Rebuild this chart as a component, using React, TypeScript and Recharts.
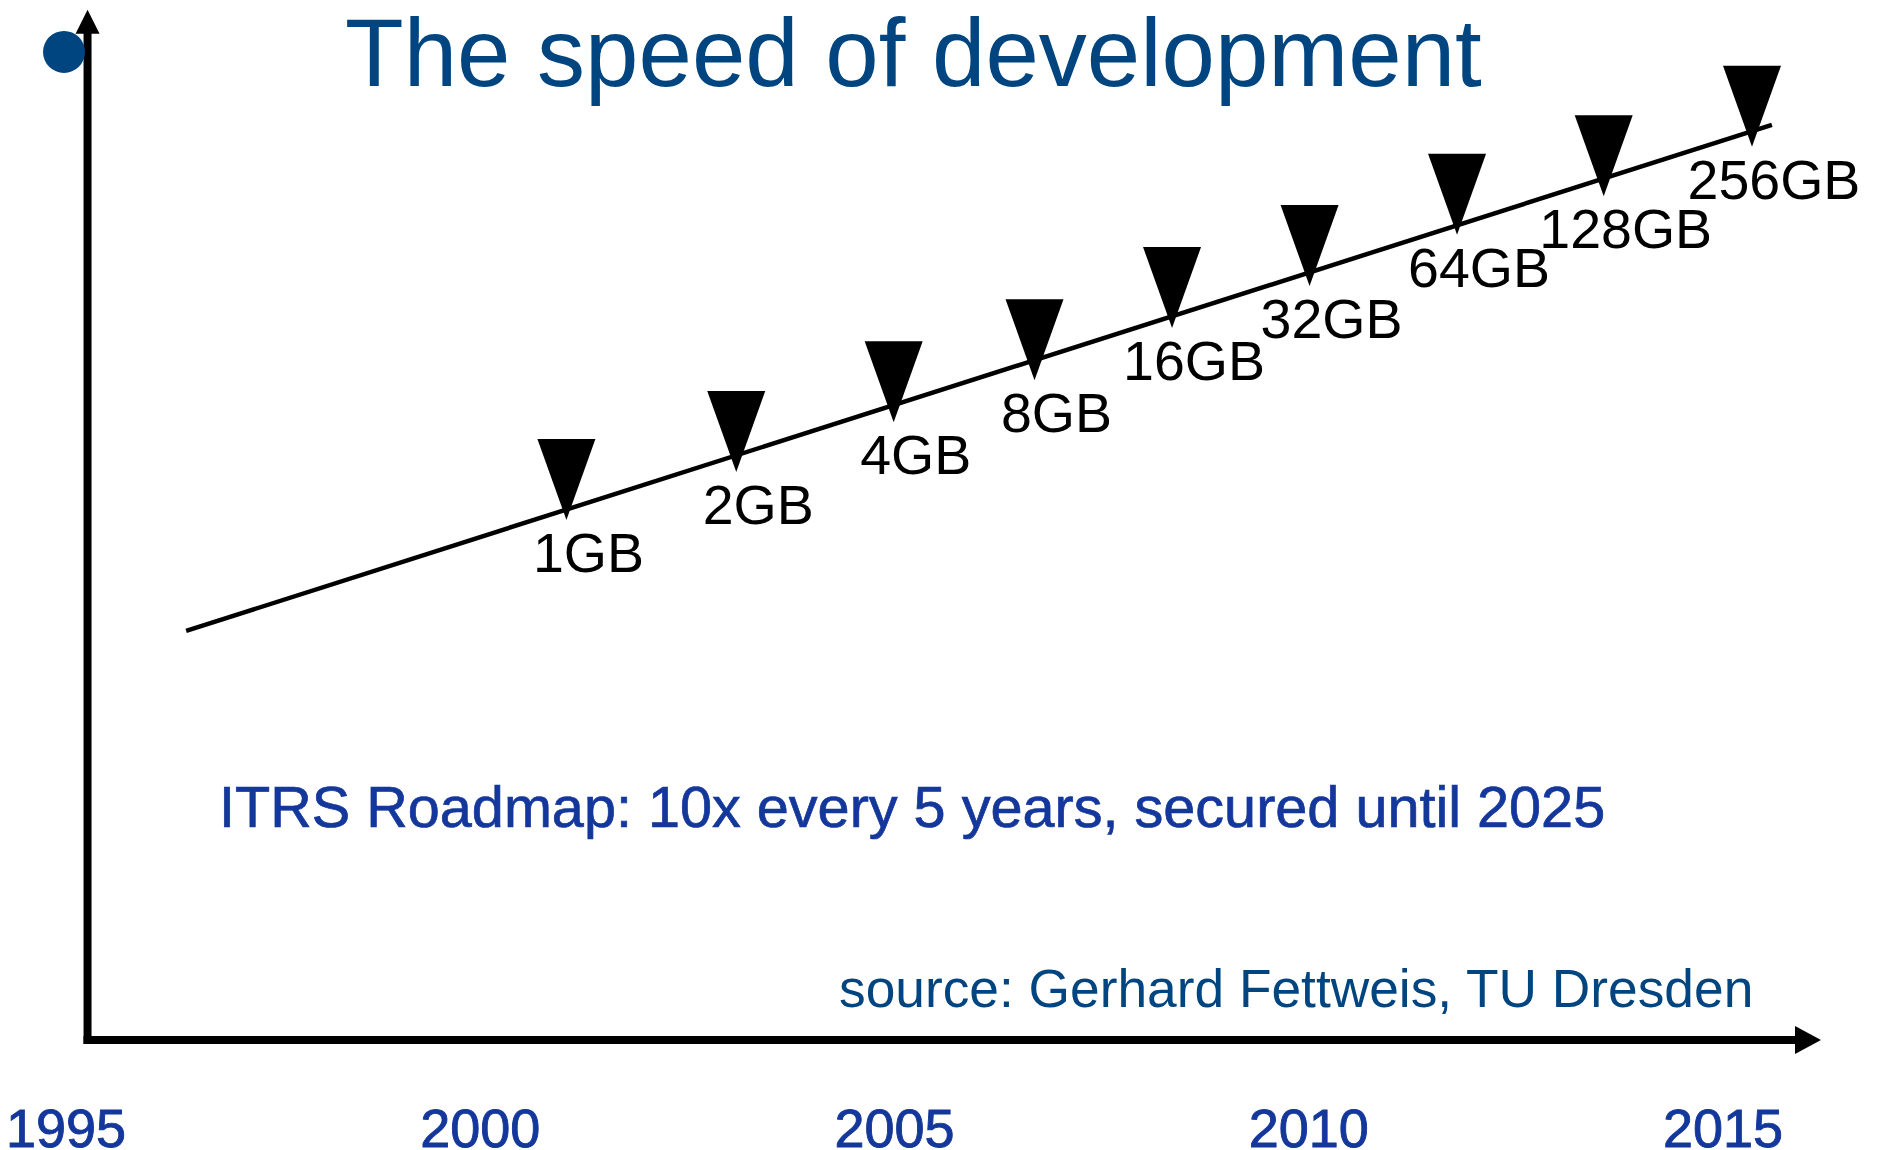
import React from "react";
import {
  ComposedChart,
  Line,
  Scatter,
  XAxis,
  YAxis,
  ReferenceLine,
  ReferenceDot,
} from "recharts";

// year ticks along the bottom
const yearTicks = [1995, 2000, 2005, 2010, 2015];

// memory generations (triangle markers), level = doublings above 1GB tip
const memLabels = ["1GB", "2GB", "4GB", "8GB", "16GB", "32GB", "64GB", "128GB", "256GB"];
const memYears = [2001.04, 2003.09, 2004.99, 2006.69, 2008.35, 2010.01, 2011.79, 2013.56, 2015.35];
const memLevels = [0, 1.03, 2.1, 3.0, 4.12, 5.02, 6.12, 6.95, 8.01];

// straight trend line
const trendYears = [1996.45, 2015.59];
const trendLevels = [-2.38, 8.48];

const FONT = "'Liberation Sans', Arial, Helvetica, sans-serif";
const DARK_BLUE = "#00457f";
const ROYAL_BLUE = "#14379b";

const memData = memYears.map((year, i) => ({
  year,
  level: memLevels[i],
  label: memLabels[i],
}));
const trendData = trendYears.map((year, i) => ({ year, level: trendLevels[i] }));

// axis line with an arrow head at the second point
const arrowShape = (head: number, spread: number) => (props: any) => {
  const { x1, y1, x2, y2 } = props;
  const len = Math.hypot(x2 - x1, y2 - y1) || 1;
  const ux = (x2 - x1) / len;
  const uy = (y2 - y1) / len;
  const bx = x2 - ux * head;
  const by = y2 - uy * head;
  const px = -uy * (spread / 2);
  const py = ux * (spread / 2);
  return (
    <g>
      <line
        x1={x1 - ux * 4}
        y1={y1 - uy * 4}
        x2={bx + ux * 2}
        y2={by + uy * 2}
        stroke="#000"
        strokeWidth={8}
      />
      <polygon
        points={`${x2},${y2} ${bx + px},${by + py} ${bx - px},${by - py}`}
        fill="#000"
      />
    </g>
  );
};

const MemMarker = (props: any) => {
  const { cx, cy, payload } = props;
  return (
    <g>
      <polygon points={`${cx},${cy} ${cx - 29},${cy - 81} ${cx + 29},${cy - 81}`} fill="#000" />
      <text
        x={cx + 22}
        y={cy + 52}
        textAnchor="middle"
        fontSize={55.5}
        fontFamily={FONT}
        fill="#000"
      >
        {payload.label}
      </text>
    </g>
  );
};

const YearTick = (props: any) => {
  const { x, y, payload } = props;
  return (
    <text
      x={x}
      y={y + 107}
      textAnchor="middle"
      fontSize={54}
      fontFamily={FONT}
      fill={ROYAL_BLUE}
      stroke={ROYAL_BLUE}
      strokeWidth={0.9}
    >
      {payload.value}
    </text>
  );
};

export default function App() {
  return (
    <div style={{ width: 1879, height: 1150, background: "#fff" }}>
      <style>{"body{margin:0}"}</style>
      <ComposedChart width={1879} height={1150} margin={{ top: 0, right: 0, bottom: 0, left: 0 }}>
        <XAxis
          type="number"
          dataKey="year"
          domain={[1994.2034, 2016.8829]}
          allowDataOverflow
          ticks={yearTicks}
          tick={<YearTick />}
          tickSize={0}
          tickMargin={0}
          axisLine={false}
          tickLine={false}
          height={110}
        />
        <YAxis type="number" dataKey="level" domain={[-11.16, 11.16]} allowDataOverflow hide width={0} />

        <ReferenceLine
          segment={[
            { x: 1995.26, y: -11.16 },
            { x: 1995.26, y: 10.95 },
          ]}
          shape={arrowShape(24, 24)}
        />
        <ReferenceLine
          segment={[
            { x: 1995.26, y: -11.16 },
            { x: 2016.183, y: -11.16 },
          ]}
          shape={arrowShape(26, 28)}
        />
        <ReferenceDot x={1994.976} y={10.045} r={21} fill={DARK_BLUE} stroke="none" />

        <Line
          data={trendData}
          dataKey="level"
          type="linear"
          stroke="#000"
          strokeWidth={4.5}
          dot={false}
          activeDot={false}
          isAnimationActive={false}
        />
        <Scatter data={memData} dataKey="level" shape={<MemMarker />} isAnimationActive={false} />

        <text x={345} y={86} fontSize={96} fontFamily={FONT} fill={DARK_BLUE}>
          The speed of development
        </text>
        <text
          x={219}
          y={827}
          fontSize={57.6}
          fontFamily={FONT}
          fill={ROYAL_BLUE}
          stroke={ROYAL_BLUE}
          strokeWidth={0.7}
        >
          ITRS Roadmap: 10x every 5 years, secured until 2025
        </text>
        <text x={839} y={1007} fontSize={53.3} fontFamily={FONT} fill={DARK_BLUE}>
          source: Gerhard Fettweis, TU Dresden
        </text>
      </ComposedChart>
    </div>
  );
}
